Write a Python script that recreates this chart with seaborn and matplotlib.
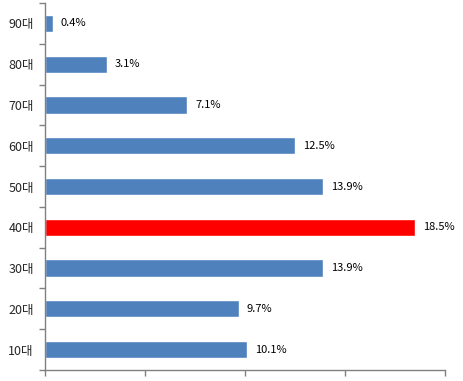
import pandas as pd
import numpy as np
import matplotlib
matplotlib.use("Agg")
import matplotlib.pyplot as plt
import seaborn as sns

sns.set_style("white")
plt.rcParams['font.family'] = ['Noto Sans CJK KR', 'DejaVu Sans']

# Data (top to bottom as shown)
ages = ['90대', '80대', '70대', '60대', '50대', '40대', '30대', '20대', '10대']
shares = [0.4, 3.1, 7.1, 12.5, 13.9, 18.5, 13.9, 9.7, 10.1]
highlight = '40대'

df = pd.DataFrame({'age': ages, 'share': shares})
palette = {a: ('#FF0000' if a == highlight else '#4F81BD') for a in ages}

fig = plt.figure(figsize=(4.64, 3.81), dpi=100)
ax = fig.add_axes([45 / 464, 11 / 381, 400 / 464, 367 / 381])

sns.barplot(data=df, y='age', x='share', hue='age', palette=palette,
            order=ages, orient='h', width=0.42, legend=False, ax=ax,
            saturation=1)

for i, v in enumerate(shares):
    ax.text(v + 0.4, i, f'{v}%', va='center', ha='left', fontsize=8, color='black')

ax.set_xlim(0, 20)
ax.set_ylim(len(ages) - 0.5, -0.5)
ax.set_xticks([0, 5, 10, 15, 20])
ax.set_xticklabels([])
ax.set_yticks(range(len(ages)))
ax.set_yticklabels(ages, fontsize=9)
ax.set_yticks(np.arange(-0.5, len(ages), 1), minor=True)
ax.tick_params(axis='y', which='major', length=0, pad=8)
ax.tick_params(axis='y', which='minor', length=4, width=1, color='#808080', direction='out', left=True)
ax.tick_params(axis='x', which='major', length=4, width=1, color='#808080', direction='out', bottom=True)
ax.set_xlabel('')
ax.set_ylabel('')

for side in ['top', 'right']:
    ax.spines[side].set_visible(False)
for side in ['left', 'bottom']:
    ax.spines[side].set_color('#808080')
    ax.spines[side].set_linewidth(1)

fig.savefig('out.png', dpi=100)
